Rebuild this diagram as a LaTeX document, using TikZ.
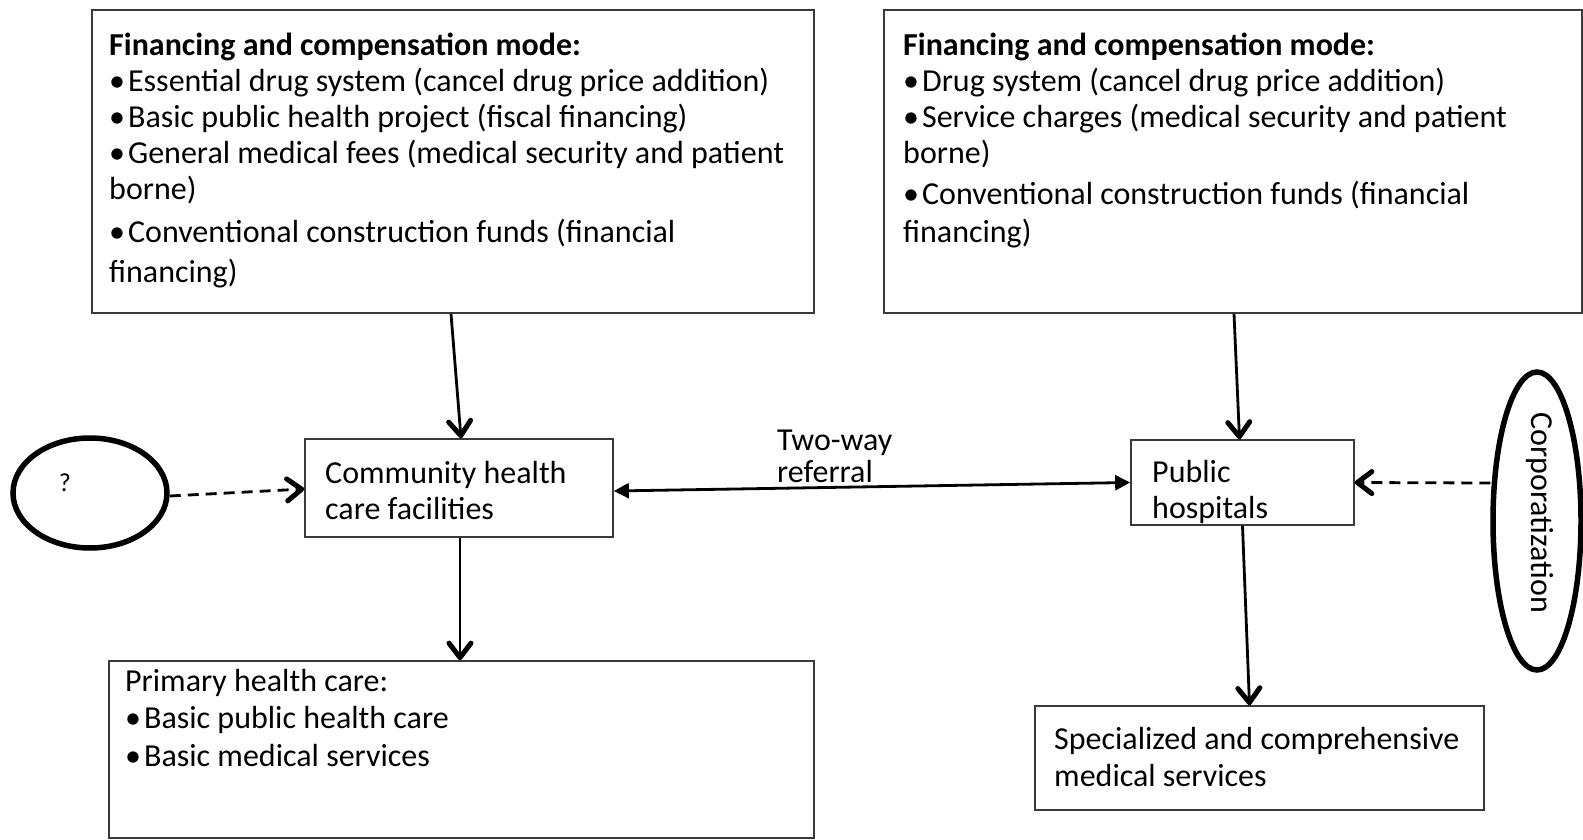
\documentclass[tikz,border=0pt]{standalone}
\usepackage{fontspec}
\setmainfont{Carlito}
\usetikzlibrary{arrows.meta,shapes.geometric,decorations.markings}
\definecolor{boxgray}{HTML}{3A3A3A}
\newcommand\mybul{•\hspace{3pt}}
\begin{document}
\begin{tikzpicture}[x=1pt,y=-1pt,
  box/.style={draw=boxgray, line width=1.7pt, inner sep=0pt, rectangle, fill=white},
  oval/.style={draw=black, line width=5.5pt, ellipse, inner sep=0pt},
  txt/.style={anchor=north west, inner sep=0pt, align=left, font=\fontsize{32}{36}\selectfont},
  chev/.style={postaction={decorate, decoration={markings,
     mark=at position 1 with {\draw[solid, line width=5pt, line cap=round, line join=round]
       (-17pt,11pt) -- (-2.5pt,0pt) -- (-17pt,-11pt);}}}},
  arr/.style={line width=2.8pt, chev},
  dsh/.style={line width=2.8pt, dash pattern=on 11pt off 7pt, chev},
  twoway/.style={line width=2.8pt, {Triangle[length=15pt,width=15pt]}-{Triangle[length=15pt,width=15pt]}}
]
\fill[white] (0,0) rectangle (1583,840);
\useasboundingbox (0,0) rectangle (1583,840);

% boxes
\node[box, minimum width=722pt, minimum height=303pt] (tl) at (453,161.5) {};
\node[box, minimum width=698pt, minimum height=303pt] (tr) at (1233,161.5) {};
\node[box, minimum width=308pt, minimum height=98pt] (comm) at (459,488) {};
\node[box, minimum width=223pt, minimum height=85pt] (pub) at (1242.5,482.5) {};
\node[box, minimum width=705pt, minimum height=177pt] (prim) at (461.5,749.5) {};
\node[box, minimum width=449pt, minimum height=104pt] (spec) at (1259.5,758) {};
\node[oval, minimum width=154pt, minimum height=110pt] (q) at (90,493) {};
\node[oval, minimum width=88pt, minimum height=298pt] (corp) at (1537,521) {};

% texts
\node[txt] (tltext) at (109,30) {\strut\textbf{Financing and compensation mode:}\\
\mybul Essential drug system (cancel drug price addition)\\
\mybul Basic public health project (fiscal financing)\\
\mybul General medical fees (medical security and patient\\
borne)\\[7pt]
\mybul Conventional construction funds (financial\\[4pt]
financing)};
\node[txt] (trtext) at (903,30) {\strut\textbf{Financing and compensation mode:}\\
\mybul Drug system (cancel drug price addition)\\
\mybul Service charges (medical security and patient\\
borne)\\[5pt]
\mybul Conventional construction funds (financial\\[2pt]
financing)};
\node[txt] (commtext) at (325,458) {\strut Community health\\ care facilities};
\node[txt] (pubtext) at (1152,457) {\strut Public\\ hospitals};
\node[txt] (twtext) at (777,425) {\strut Two-way\\[-3.7pt] referral};
\node[txt] (primtext) at (125,666) {\strut Primary health care:\\[1.4pt]
\mybul Basic public health care\\[1.4pt]
\mybul Basic medical services};
\node[txt] (spectext) at (1054,724) {\strut Specialized and comprehensive\\[1.4pt] medical services};
\node[font=\fontsize{26}{30}\selectfont, inner sep=0pt] (qtext) at (65,483) {?};
\node[font=\fontsize{32}{36}\selectfont, inner sep=0pt, rotate=-90] (corptext) at (1540,513) {Corporatization};

% connectors
\draw[arr] ([xshift=-2pt]tl.south) -- ([xshift=2pt]comm.north);
\draw[arr] ([xshift=1pt]tr.south) -- ([xshift=-3pt]pub.north);
\draw[arr] ([xshift=1pt]comm.south) -- ([xshift=-1.5pt]prim.north);
\draw[arr] (pub.south) -- ([xshift=-10pt]spec.north);
\draw[twoway] ([yshift=-3pt]comm.east) -- (pub.west);
\draw[dsh] ([yshift=-3pt]q.east) -- ([yshift=-1pt]comm.west);
\draw[dsh] ([yshift=38pt]corp.west) -- (pub.east);
\end{tikzpicture}
\end{document}
